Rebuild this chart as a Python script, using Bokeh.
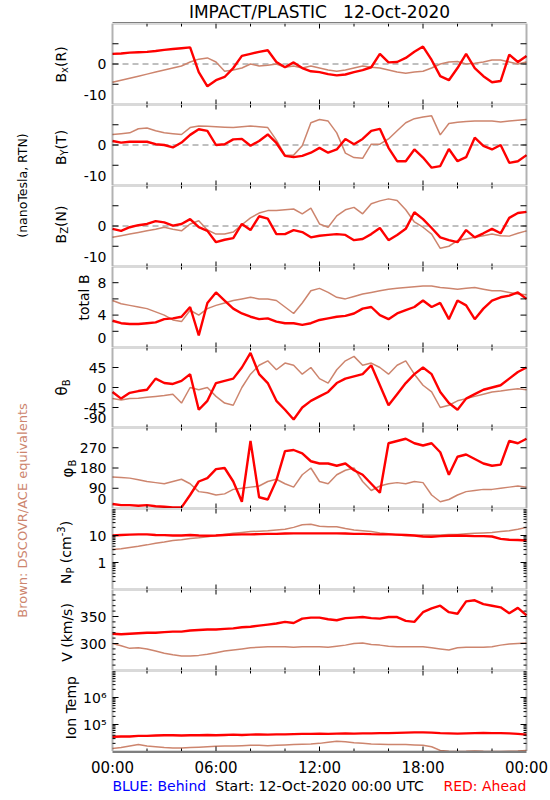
import math
from bokeh.plotting import figure
from bokeh.layouts import column, row
from bokeh.models import Range1d, Label, BoxAnnotation
from bokeh.embed import file_html
from bokeh.resources import INLINE

# ---------------- data (30-min samples) ----------------
hours = [0, 0.5, 1, 1.5, 2, 2.5, 3, 3.5, 4, 4.5, 5, 5.5,
         6, 6.5, 7, 7.5, 8, 8.5, 9, 9.5, 10, 10.5, 11, 11.5,
         12, 12.5, 13, 13.5, 14, 14.5, 15, 15.5, 16, 16.5, 17, 17.5,
         18, 18.5, 19, 19.5, 20, 20.5, 21, 21.5, 22, 22.5, 23, 23.5, 24]

bx_ahead = [2.5, 2.6, 2.8, 2.9, 3.0, 3.2, 3.5, 3.7, 3.9, 4.1, -2.0, -5.5,
            -4.0, -3.2, -1.0, 2.0, 2.5, 3.0, 3.4, 0.5, -0.8, 0.4, -1.0, -1.8,
            -2.0, -2.5, -2.8, -2.6, -2.0, -1.5, -0.8, 2.5, 0.4, 0.5, 1.5, 3.0,
            4.3, 1.0, -3.0, -4.0, -1.0, 2.5, -1.0, -3.0, -4.5, -4.2, 2.3, 0.5, 2.0]
bx_dscovr = [-4.5, -4.0, -3.5, -3.0, -2.5, -2.0, -1.5, -1.0, -0.5, 0.5, 1.2, 1.5,
             0.5, -1.8, -1.5, -1.0, 0.0, -0.5, -0.3, 0.0, -0.8, -0.5, -1.0, -0.5,
             -1.0, -1.5, -1.8, -1.5, -1.0, -0.5, -0.8, -1.0, -1.5, -2.0, -2.3, -2.0,
             -1.8, -1.0, 0.0, 0.5, 0.6, 0.0, 0.2, 0.5, 1.0, 1.0, 0.5, 0.0, 0.5]

by_ahead = [1.0, 0.6, 0.8, 0.8, 0.8, 0.2, 0.0, -0.6, 0.6, 2.5, 3.9, 3.5,
            0.0, 0.2, 1.4, 1.5, -0.2, 1.0, 2.6, 0.5, -2.7, -3.0, -2.7, -1.9,
            -0.7, -1.9, -1.1, 1.5, 0.2, 1.5, 3.5, 4.0, -0.7, -4.0, -4.0, -1.1,
            -3.1, -5.6, -5.2, -1.0, -4.0, -3.0, 1.8, -0.2, -1.1, 0.0, -4.4, -4.0, -2.5]
by_dscovr = [2.6, 2.8, 3.0, 4.0, 4.2, 3.5, 3.0, 2.8, 2.6, 4.3, 4.7, 4.6,
             4.5, 4.4, 4.3, 4.5, 4.7, 4.5, 4.3, 1.2, -2.5, -2.5, -0.2, 5.5,
             6.3, 5.9, 3.0, -2.0, -3.1, -3.3, 0.2, 0.2, 1.5, 3.5, 5.5, 6.5,
             6.9, 7.2, 2.5, 5.3, 5.6, 5.8, 5.9, 5.9, 5.9, 5.7, 5.9, 6.1, 6.3]

bz_ahead = [-0.7, -1.2, -0.3, 0.2, 0.5, 1.2, 0.9, 0.1, 0.5, 1.7, -0.3, -1.2,
            -4.0, -3.4, -3.0, 0.5, -1.0, 2.4, 1.8, -2.0, -2.0, -1.0, -1.5, -2.8,
            -2.4, -2.2, -2.0, -2.2, -3.5, -3.2, -2.0, -0.5, -3.5, -2.2, -0.7, 3.4,
            1.7, -0.5, -2.8, -3.5, -4.0, -1.0, -2.8, -1.8, -0.7, -1.8, 2.0, 3.2, 3.5]
bz_dscovr = [-2.8, -2.4, -2.0, -1.6, -1.2, -0.8, -0.3, -0.8, -1.2, 0.5, 1.3, -1.0,
             -2.0, -2.0, -1.5, 0.3, 2.0, 3.2, 3.8, 3.8, 4.0, 4.2, 3.0, 4.4,
             0.5, -0.3, 2.5, 4.0, 4.6, 3.0, 5.5, 6.2, 6.7, 6.3, 4.0, 1.0,
             -0.3, -2.0, -5.5, -5.0, -3.6, -3.2, -2.8, -2.4, -2.0, -2.4, -2.5, -1.8, -1.2]

btot_ahead = [3.3, 3.0, 2.9, 2.9, 3.0, 3.1, 3.5, 3.6, 3.8, 5.0, 1.5, 5.5,
              6.8, 5.8, 4.8, 4.2, 3.8, 3.5, 3.6, 3.2, 3.0, 3.0, 2.8, 3.0,
              3.4, 3.6, 3.8, 3.9, 4.2, 4.8, 5.0, 4.0, 3.5, 4.2, 4.6, 5.0,
              5.8, 5.0, 5.5, 3.5, 5.8, 5.2, 3.5, 4.8, 5.8, 6.2, 6.4, 6.8, 6.0]
btot_dscovr = [5.8, 5.4, 5.2, 5.0, 4.8, 4.4, 4.0, 3.4, 3.2, 4.6, 4.0, 4.8,
               5.2, 5.5, 5.8, 6.0, 6.2, 6.0, 6.0, 5.8, 5.0, 4.2, 5.5, 7.0,
               7.3, 6.8, 6.2, 6.0, 6.3, 6.6, 6.8, 7.0, 7.2, 7.3, 7.4, 7.5,
               7.6, 7.6, 7.4, 7.3, 7.2, 7.3, 7.4, 7.2, 7.0, 7.0, 6.8, 6.6, 6.5]

theta_ahead = [-10, -25, -12, -8, -5, 20, 10, 8, 15, 30, -50, -30,
               10, 15, 20, 45, 78, 30, 10, -30, -50, -72, -45, -30,
               -20, -10, 10, 20, 25, 30, 50, 5, -40, -15, 10, 30,
               45, 30, -10, -35, -50, -25, -15, -5, 0, 5, 20, 35, 45]
theta_dscovr = [-25, -28, -25, -24, -22, -20, -18, -15, -35, 0, -5, 0,
                -20, -35, -40, 0, 30, 50, 60, 40, 55, 50, 30, 45,
                20, 10, 40, 60, 70, 50, 55, 45, 30, 50, 60, 30,
                5, -10, -45, -40, -30, -25, -20, -15, -10, -8, -5, -3, -5]

phi_ahead = [20, 15, 15, 12, 15, 10, 8, 5, 5, 60, 120, 135,
             175, 180, 120, 30, 300, 50, 40, 125, 255, 260, 245, 210,
             200, 200, 190, 200, 170, 150, 110, 70, 290, 300, 310, 290,
             280, 290, 250, 150, 230, 240, 220, 200, 190, 195, 300, 290, 310]
phi_dscovr = [140, 138, 135, 128, 120, 115, 110, 120, 130, 110, 75, 70,
              60, 65, 85, 90, 95, 100, 120, 130, 110, 95, 150, 180,
              120, 110, 150, 170, 180, 120, 80, 100, 110, 115, 110, 120,
              115, 60, 30, 40, 60, 75, 80, 85, 85, 90, 95, 100, 95]

np_ahead = [10.0, 10.5, 10.8, 11.0, 11.0, 10.5, 10.3, 10.0, 10.0, 10.5, 10.0, 9.8,
            10.0, 10.5, 10.8, 11.0, 11.0, 11.2, 11.5, 11.5, 11.8, 12.0, 12.0, 12.0,
            12.0, 12.0, 12.0, 11.8, 11.5, 11.5, 11.2, 11.0, 11.0, 10.8, 10.5, 10.0,
            9.2, 9.0, 9.5, 9.8, 10.0, 9.8, 9.5, 9.5, 9.2, 7.5, 7.0, 6.8, 6.5]
np_dscovr = [3.0, 3.2, 3.6, 4.0, 4.5, 5.2, 5.8, 6.5, 7.0, 7.8, 8.3, 9.0,
             10.0, 11.0, 12.0, 13.0, 14.0, 14.5, 15.0, 16.0, 17.0, 20.0, 25.0, 26.0,
             22.0, 21.0, 21.0, 18.0, 16.0, 15.0, 14.0, 12.5, 11.5, 10.5, 10.0, 10.0,
             10.5, 10.5, 10.5, 11.0, 11.0, 11.5, 12.0, 12.5, 13.0, 14.0, 15.0, 17.0, 20.0]

v_ahead = [318, 317, 318, 319, 320, 320, 321, 322, 322, 324, 325, 326,
           326, 327, 328, 330, 331, 333, 335, 337, 340, 338, 346, 348,
           348, 345, 343, 347, 348, 349, 347, 346, 349, 349, 342, 340,
           358, 365, 370, 358, 355, 378, 380, 373, 370, 367, 356, 366, 352]
v_dscovr = [300, 296, 291, 292, 290, 286, 282, 279, 277, 277, 278, 280,
            283, 286, 288, 290, 292, 293, 294, 294, 294, 293, 294, 294,
            294, 293, 295, 297, 300, 301, 298, 297, 295, 294, 294, 294,
            294, 292, 290, 288, 292, 293, 293, 293, 294, 297, 299, 300, 301]

temp_ahead = [35000, 36000, 36000, 38000, 38000, 39000, 40000, 40000, 39000, 40000, 40000, 41000,
              40000, 41000, 42000, 41000, 42000, 43000, 42000, 43000, 43000, 44000, 45000, 45000,
              46000, 45000, 46000, 47000, 46000, 47000, 47000, 48000, 48000, 49000, 50000, 51000,
              51000, 50000, 48000, 47000, 46000, 47000, 48000, 49000, 48000, 48000, 47000, 45000, 42000]
temp_dscovr = [13000, 14000, 16000, 18000, 16000, 15000, 14000, 13500, 13500, 14000, 14500, 15000,
               15500, 16000, 16000, 16500, 17000, 17000, 16500, 17000, 17500, 18000, 18500, 19000,
               20000, 22000, 24000, 23000, 21000, 20000, 19000, 18500, 18000, 18000, 18000, 17500,
               17000, 15000, 11000, 10200, 10000, 10200, 10500, 10200, 10000, 10000, 10300, 10500, 11000]

x_ticks = [0, 6, 12, 18, 24]
x_tick_labels = ["00:00", "06:00", "12:00", "18:00", "00:00"]
x_minor = [2, 4, 8, 10, 14, 16, 20, 22]

# ---------------- layout constants (page pixels) ----------------
RED = "#ff0000"
BROWN = "#cd856e"
FONT = "DejaVu Sans"
STRIP_W = 40
FRAME_L, BOX_L, BOX_R, PAGE_W = 40, 112, 526, 550
PXH = (BOX_R - BOX_L) / 24.0
TOPS = [23, 104, 185, 266, 347, 427, 508, 589, 670]
FHS = [81, 81, 81, 81, 80, 81, 81, 81, 81]
FOOT_H = 47
TOTAL_H = TOPS[-1] + FHS[-1] + FOOT_H


def hx(px):
    return (px - BOX_L) / PXH


XR = (hx(FRAME_L), hx(PAGE_W))


def base_fig(fh, yr, log=False):
    f = figure(frame_width=PAGE_W - FRAME_L, frame_height=fh, x_range=Range1d(*XR),
               y_range=Range1d(*yr), y_axis_type="log" if log else "linear",
               x_axis_location=None, y_axis_location=None, toolbar_location=None,
               output_backend="svg", min_border=0)
    f.outline_line_color = None
    f.grid.visible = False
    f.background_fill_color = "white"
    f.border_fill_color = "white"
    return f


def label(f, x, y, s, size="14px", align="left", baseline="middle", color="black", angle=0.0):
    f.add_layout(Label(x=x, y=y, text=s, angle=angle, text_align=align,
                       text_baseline=baseline, text_font=FONT, text_font_size=size,
                       text_color=color))


class Panel:
    def __init__(self, idx, yr, log, yticks, yminor, minor_len, ahead, dscovr,
                 zero=False, tick_text=None, edge_text=None):
        self.top, self.fh = TOPS[idx], FHS[idx]
        self.ymin, self.ymax, self.log = yr[0], yr[1], log
        p = base_fig(self.fh, yr, log)
        self.fig = p

        if zero:
            p.segment(x0=0, x1=24, y0=0, y1=0, line_color="#808080",
                      line_dash="6 4", line_width=1)

        p.line(hours, dscovr, line_color=BROWN, line_width=1.5)
        p.line(hours, ahead, line_color=RED, line_width=2.4)

        # box and inward tick marks
        p.add_layout(BoxAnnotation(left=0, right=24, bottom=self.ymin, top=self.ymax,
                                   fill_color=None, line_color="black", line_width=2))
        for xs, ln in ((x_ticks[1:-1], 5), (x_minor, 3)):
            p.ray(x=xs, y=[self.ymin] * len(xs), length=ln, length_units="screen",
                  angle=math.pi / 2, line_color="black", line_width=1)
            p.ray(x=xs, y=[self.ymax] * len(xs), length=ln, length_units="screen",
                  angle=-math.pi / 2, line_color="black", line_width=1)
        for ys, ln in ((yticks, 6), (yminor, minor_len)):
            if ys:
                p.ray(x=[0] * len(ys), y=ys, length=ln, length_units="screen",
                      angle=0, line_color="black", line_width=1)
                p.ray(x=[24] * len(ys), y=ys, length=ln, length_units="screen",
                      angle=math.pi, line_color="black", line_width=1)

        # tick labels
        texts = tick_text or [str(t) for t in yticks]
        for t, s in zip(yticks, texts):
            label(p, hx(106), t, s, align="right")
        if edge_text:
            # the label of the lowest tick is kept whole just above the lower edge
            label(p, hx(106), self.ydata(self.top + self.fh - 4.5), edge_text,
                  align="right", baseline="bottom")

    def ydata(self, py):
        frac = (py - self.top) / self.fh
        if self.log:
            a, b = math.log10(self.ymin), math.log10(self.ymax)
            return 10 ** (b - frac * (b - a))
        return self.ymax - frac * (self.ymax - self.ymin)


def log_minor(decades):
    return [k * 10 ** d for d in decades for k in range(2, 10)]


panels = [
    Panel(0, (-10, 10), False, [0], [-5, 5], 6, bx_ahead, bx_dscovr, zero=True, edge_text="-10"),
    Panel(1, (-10, 10), False, [0], [-5, 5], 6, by_ahead, by_dscovr, zero=True, edge_text="-10"),
    Panel(2, (-10, 10), False, [0], [-5, 5], 6, bz_ahead, bz_dscovr, zero=True, edge_text="-10"),
    Panel(3, (0, 10), False, [4, 8], [2, 6], 6, btot_ahead, btot_dscovr, edge_text="0"),
    Panel(4, (-90, 90), False, [-45, 0, 45], [], 3, theta_ahead, theta_dscovr, edge_text="-90"),
    Panel(5, (0, 360), False, [90, 180, 270], [], 3, phi_ahead, phi_dscovr, edge_text="0"),
    Panel(6, (0.1, 100), True, [1, 10], log_minor([-1, 0, 1]), 3, np_ahead, np_dscovr),
    Panel(7, (250, 400), False, [300, 350],
          [260, 270, 280, 290, 310, 320, 330, 340, 360, 370, 380, 390], 3, v_ahead, v_dscovr),
    Panel(8, (1e4, 1e7), True, [1e5, 1e6], log_minor([4, 5, 6]), 3, temp_ahead, temp_dscovr,
          tick_text=["10\u2075", "10\u2076"]),
]

# rotated y-axis titles built from pieces (main text, sub/superscripts)
CW = {"B": .686, "x": .592, "(": .390, ")": .390, "R": .695, "Y": .611, "T": .611,
      "Z": .685, "N": .748, "t": .392, "o": .612, "a": .613, "l": .278, " ": .318,
      "\u00a0": .318, "θ": .612, "φ": .733, "P": .603, "c": .550, "m": .974, "-": .361,
      "3": .636, "V": .684, "k": .579, "/": .337, "s": .521, "I": .295, "n": .634,
      "e": .615, "p": .635}


def tw(s, size):
    return sum(CW.get(c, 0.6) for c in s) * size


def vlabel(pn, parts, xc, yc):
    total = sum(tw(t, s) for t, s, dx in parts)
    y = yc + total / 2
    for t, s, dx in parts:
        label(pn.fig, hx(xc + dx), pn.ydata(y), t, size=f"{s}px", align="left",
              baseline="middle", angle=math.pi / 2)
        y -= tw(t, s)


vlabel(panels[0], [("B", 14, 0), ("x", 10, 4), ("(R)", 14, 0)], 60, 64)
vlabel(panels[1], [("B", 14, 0), ("Y", 10, 4), ("(T)", 14, 0)], 60, 147)
vlabel(panels[2], [("B", 14, 0), ("Z", 10, 4), ("(N)", 14, 0)], 60, 224)
vlabel(panels[3], [("total\u00a0B", 14, 0)], 83, 297)
vlabel(panels[4], [("θ", 15, 0), ("B", 10, 5)], 61, 387)
vlabel(panels[5], [("φ", 15, 0), ("B", 10, 5)], 67, 468)
vlabel(panels[6], [("N", 14, 0), ("P", 10, 5), ("\u00a0(cm", 14, 0), ("-3", 10, -5),
                   (")", 14, 0)], 65, 552)
vlabel(panels[7], [("V\u00a0(km/s)", 14, 0)], 66, 632)
vlabel(panels[8], [("Ion\u00a0Temp", 14, 0)], 70, 706)

# ---------------- header (title) and footer (time labels, legend line) ----------------
header = base_fig(TOPS[0], (TOPS[0], 0))
label(header, 12, 11.5, "IMPACT/PLASTIC\u00a0\u00a0\u00a012-Oct-2020", size="17px",
      align="center", baseline="middle")
header.segment(x0=0, x1=24, y0=TOPS[0], y1=TOPS[0], line_color="black", line_width=2)

footer = base_fig(FOOT_H, (FOOT_H, 0))
footer.segment(x0=0, x1=24, y0=0, y1=0, line_color="black", line_width=2)
for t, s in zip(x_ticks, x_tick_labels):
    label(footer, t, 16.5, s, size="15px", align="center")
label(footer, 0, 34, "BLUE: Behind", color="#0000ff")
label(footer, 12, 34, "Start: 12-Oct-2020 00:00 UTC", align="center")
label(footer, 24, 34, "RED: Ahead", align="right", color=RED)

# ---------------- left strip with the long rotated captions ----------------
strip = figure(frame_width=STRIP_W, frame_height=TOTAL_H, x_range=Range1d(0, STRIP_W),
               y_range=Range1d(TOTAL_H, 0), x_axis_location=None, y_axis_location=None,
               toolbar_location=None, output_backend="svg", min_border=0)
strip.outline_line_color = None
strip.grid.visible = False
label(strip, 21.5, 185, "(nanoTesla, RTN)", size="12.5px", align="center", angle=math.pi / 2)
label(strip, 21.5, 510, "Brown: DSCOVR/ACE equivalents", size="13px", align="center",
      color=BROWN, angle=math.pi / 2)

layout = row(strip, column(header, *[pn.fig for pn in panels], footer))
open("out.html", "w").write(file_html(layout, INLINE))
